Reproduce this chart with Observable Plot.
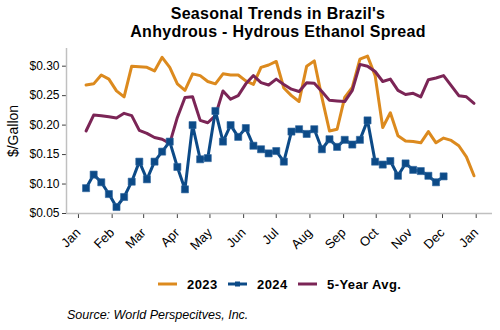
<!DOCTYPE html>
<html><head><meta charset="utf-8">
<script src="https://cdn.jsdelivr.net/npm/d3@7"></script>
<script src="https://cdn.jsdelivr.net/npm/@observablehq/plot@0.6"></script>
<style>
body{margin:0;background:#fff;font-family:"Liberation Sans",Arial,sans-serif;color:#000;}
#wrap{position:relative;width:500px;height:330px;overflow:hidden;background:#fff;}
#title{position:absolute;left:78px;top:4.7px;width:400px;text-align:center;font-weight:bold;font-size:16px;line-height:18.5px;letter-spacing:0.3px;}
#ylab{position:absolute;left:12.5px;top:131px;transform:translate(-50%,-50%) rotate(-90deg);font-size:14px;white-space:nowrap;}
#chart{position:absolute;left:0;top:44px;}
#legend{position:absolute;left:158px;top:276px;display:flex;align-items:center;height:16px;font-weight:bold;font-size:13px;letter-spacing:0.4px;}
#legend .sw{width:19px;height:16px;margin-right:10px;}
#legend .lab{margin-right:10.5px;}
#source{position:absolute;left:67px;top:308px;font-style:italic;font-size:12.5px;line-height:14px;}
</style></head>
<body><div id="wrap">
<div id="title">Seasonal Trends in Brazil's<br>Anhydrous - Hydrous Ethanol Spread</div>
<div id="ylab">$/Gallon</div>
<div id="chart"></div>
<div id="legend"></div>
<div id="source">Source: World Perspecitves, Inc.</div>
</div>
<script>
// Weekly values, $/gallon
const values2023 = [0.268,0.270,0.285,0.278,0.258,0.248,0.300,0.299,0.298,0.292,0.315,0.298,0.270,0.259,0.287,0.284,0.274,0.270,0.287,0.285,0.285,0.275,0.269,0.298,0.302,0.308,0.263,0.250,0.240,0.300,0.309,0.247,0.190,0.193,0.247,0.264,0.312,0.317,0.284,0.196,0.221,0.182,0.173,0.172,0.170,0.189,0.170,0.178,0.174,0.165,0.146,0.114];
const values2024 = [0.093,0.116,0.103,0.083,0.061,0.078,0.104,0.138,0.108,0.138,0.155,0.172,0.129,0.091,0.200,0.142,0.144,0.224,0.172,0.200,0.180,0.195,0.165,0.159,0.152,0.156,0.138,0.189,0.193,0.185,0.193,0.159,0.176,0.163,0.175,0.167,0.175,0.208,0.138,0.133,0.139,0.114,0.135,0.124,0.122,0.114,0.103,0.113];
const valuesAvg = [0.190,0.217,0.216,0.214,0.212,0.220,0.216,0.191,0.186,0.179,0.176,0.169,0.213,0.247,0.248,0.208,0.204,0.216,0.258,0.244,0.250,0.270,0.284,0.272,0.268,0.278,0.269,0.261,0.257,0.272,0.271,0.257,0.242,0.241,0.240,0.259,0.303,0.300,0.291,0.274,0.278,0.259,0.252,0.254,0.248,0.277,0.280,0.284,0.267,0.250,0.248,0.237];
const seriesNames = ["2023", "2024", "5-Year Avg."];
const seriesColors = ["#DC8A1E", "#0C4A87", "#7B2556"];
const yTicks = [0.05, 0.10, 0.15, 0.20, 0.25, 0.30];
const monthLabels = ["Jan","Feb","Mar","Apr","May","Jun","Jul","Aug","Sep","Oct","Nov","Dec","Jan"];

const firstWeek = new Date(Date.UTC(2024, 0, 8));
const weekDate = i => d3.utcDay.offset(firstWeek, 7 * i);
const toRows = vals => vals.map((v, i) => ({date: weekDate(i), value: v}));
const d2023 = toRows(values2023), d2024 = toRows(values2024), dAvg = toRows(valuesAvg);
const monthTicks = monthLabels.map((m, i) => new Date(Date.UTC(2024, i, 1)));
const xDomain = [new Date(Date.UTC(2023, 11, 21)), new Date(Date.UTC(2025, 0, 16))];

const chart = Plot.plot({
  width: 500, height: 212,
  marginLeft: 66, marginRight: 8, marginTop: 4, marginBottom: 43,
  style: {fontFamily: '"Liberation Sans", Arial, sans-serif', fontSize: "12px", color: "#000", background: "transparent"},
  x: {type: "utc", domain: xDomain},
  y: {domain: [0.05, 0.33]},
  marks: [
    Plot.axisY({ticks: yTicks, tickFormat: d => "$" + d.toFixed(2), tickSize: 4, tickPadding: 3, label: null, stroke: "#404040", fontSize: 12, style: {letterSpacing: "0.4px"}}),
    Plot.axisX({ticks: monthTicks, tickFormat: (d, i) => monthLabels[i], tickSize: 5, tickPadding: 12, tickRotate: -45, label: null, stroke: "#404040", fontSize: 13, style: {letterSpacing: "0.5px"}}),
    Plot.ruleX([xDomain[0]], {stroke: "#c0c0c0", strokeWidth: 1.5}),
    Plot.ruleY([0.05], {stroke: "#c0c0c0", strokeWidth: 1.5}),
    Plot.line(d2023, {x: "date", y: "value", stroke: seriesColors[0], strokeWidth: 3}),
    Plot.line(dAvg, {x: "date", y: "value", stroke: seriesColors[2], strokeWidth: 3}),
    Plot.line(d2024, {x: "date", y: "value", stroke: seriesColors[1], strokeWidth: 3}),
    Plot.dot(d2024, {x: "date", y: "value", symbol: "square", r: 4, fill: seriesColors[1], stroke: "#2d659e", strokeWidth: 0.6})
  ]
});
document.getElementById("chart").appendChild(chart);

const legend = document.getElementById("legend");
seriesNames.forEach((name, i) => {
  const marker = i === 1 ? `<rect x="7" y="5.5" width="5" height="5" fill="${seriesColors[i]}"/>` : "";
  legend.insertAdjacentHTML("beforeend",
    `<svg class="sw" viewBox="0 0 19 16"><line x1="0" x2="19" y1="8" y2="8" stroke="${seriesColors[i]}" stroke-width="3"/>${marker}</svg><span class="lab">${name}</span>`);
});
</script>
</body></html>
